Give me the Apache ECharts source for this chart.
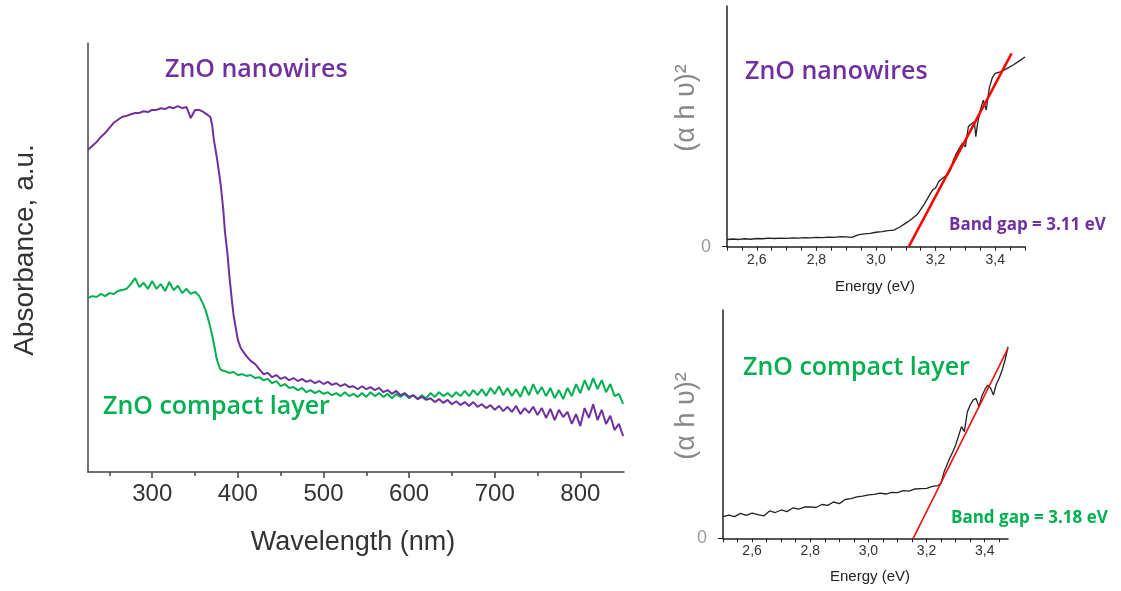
<!DOCTYPE html>
<html><head><meta charset="utf-8">
<script src="https://cdn.jsdelivr.net/npm/echarts@6/dist/echarts.min.js"></script>
<style>html,body{margin:0;padding:0;background:#fff}#c{width:1121px;height:591px}</style>
</head><body><div id="c"></div>
<script>
// Absorbance spectra (wavelength nm, absorbance a.u.)
const nanowiresAbs = [
[225,0.751],[230,0.760],[235,0.769],[240,0.781],[245,0.790],[250,0.802],[255,0.814],[260,0.821],[265,0.828],[270,0.830],
[275,0.834],[280,0.837],[285,0.837],[290,0.841],[295,0.839],[300,0.844],[305,0.844],[310,0.848],[315,0.846],[320,0.851],
[325,0.848],[330,0.853],[335,0.848],[340,0.851],[345,0.825],[350,0.844],[355,0.844],[360,0.839],[365,0.832],[368,0.827],
[370,0.809],[372,0.774],[375,0.739],[378,0.699],[380,0.669],[383,0.611],[385,0.559],[388,0.506],[390,0.459],[393,0.401],
[395,0.366],[398,0.331],[400,0.308],[403,0.291],[405,0.284],[410,0.270],[415,0.259],[420,0.252],[425,0.240],[430,0.228],
[435,0.231],[440,0.221],[445,0.226],[450,0.217],[455,0.221],[460,0.214],[465,0.219],[470,0.212],[475,0.217],[480,0.210],
[485,0.214],[490,0.207],[495,0.212],[500,0.205],[505,0.210],[510,0.203],[515,0.207],[520,0.200],[525,0.205],[530,0.198],
[535,0.200],[540,0.193],[545,0.200],[550,0.193],[555,0.198],[560,0.191],[565,0.196],[570,0.186],[575,0.191],[580,0.182],
[585,0.189],[590,0.179],[595,0.184],[600,0.175],[605,0.179],[610,0.170],[615,0.175],[620,0.168],[625,0.172],[630,0.163],
[635,0.170],[640,0.161],[645,0.168],[650,0.158],[655,0.165],[660,0.156],[665,0.163],[670,0.154],[675,0.163],[680,0.152],
[685,0.158],[690,0.149],[695,0.156],[700,0.145],[705,0.154],[710,0.142],[715,0.152],[720,0.140],[725,0.154],[730,0.135],
[735,0.149],[740,0.138],[745,0.152],[750,0.133],[755,0.149],[760,0.126],[765,0.147],[770,0.121],[775,0.145],[780,0.128],
[785,0.140],[790,0.112],[795,0.135],[800,0.107],[805,0.149],[810,0.126],[815,0.158],[820,0.121],[825,0.145],[830,0.112],
[835,0.131],[840,0.098],[845,0.112],[850,0.084]
];
const compactAbs = [
[225,0.406],[230,0.410],[235,0.408],[240,0.415],[245,0.410],[250,0.417],[255,0.415],[260,0.422],[265,0.424],[270,0.427],
[275,0.438],[280,0.452],[285,0.431],[290,0.441],[295,0.427],[300,0.445],[305,0.427],[310,0.438],[315,0.422],[320,0.443],
[325,0.424],[330,0.434],[335,0.417],[340,0.427],[345,0.415],[350,0.420],[355,0.410],[360,0.389],[363,0.373],[365,0.359],
[368,0.336],[370,0.319],[373,0.289],[375,0.266],[378,0.247],[380,0.238],[385,0.235],[390,0.231],[395,0.233],[400,0.226],
[405,0.228],[410,0.224],[415,0.226],[420,0.219],[425,0.221],[430,0.214],[435,0.217],[440,0.207],[445,0.212],[450,0.200],
[455,0.205],[460,0.196],[465,0.198],[470,0.191],[475,0.196],[480,0.186],[485,0.191],[490,0.184],[495,0.189],[500,0.182],
[505,0.186],[510,0.179],[515,0.184],[520,0.177],[525,0.186],[530,0.177],[535,0.182],[540,0.175],[545,0.184],[550,0.175],
[555,0.186],[560,0.177],[565,0.184],[570,0.175],[575,0.182],[580,0.172],[585,0.182],[590,0.175],[595,0.182],[600,0.172],
[605,0.179],[610,0.170],[615,0.179],[620,0.172],[625,0.184],[630,0.175],[635,0.186],[640,0.177],[645,0.184],[650,0.175],
[655,0.186],[660,0.177],[665,0.189],[670,0.177],[675,0.191],[680,0.179],[685,0.193],[690,0.177],[695,0.196],[700,0.182],
[705,0.200],[710,0.179],[715,0.196],[720,0.177],[725,0.193],[730,0.175],[735,0.200],[740,0.179],[745,0.205],[750,0.182],
[755,0.198],[760,0.177],[765,0.196],[770,0.172],[775,0.191],[780,0.170],[785,0.196],[790,0.177],[795,0.205],[800,0.184],
[805,0.214],[810,0.191],[815,0.219],[820,0.193],[825,0.214],[830,0.186],[835,0.205],[840,0.177],[845,0.182],[850,0.159]
];
// Tauc plots (energy eV, (alpha h nu)^2 a.u.)
const nanowiresTauc = [
[2.50,0.030],[2.52,0.032],[2.54,0.030],[2.56,0.033],[2.58,0.031],[2.60,0.034],[2.62,0.033],[2.64,0.036],[2.66,0.034],[2.68,0.036],
[2.70,0.035],[2.72,0.037],[2.74,0.036],[2.76,0.038],[2.78,0.037],[2.80,0.039],[2.82,0.038],[2.84,0.040],[2.86,0.039],[2.88,0.042],
[2.90,0.041],[2.92,0.039],[2.94,0.049],[2.96,0.053],[2.98,0.055],[3.00,0.060],[3.02,0.063],[3.04,0.067],[3.06,0.069],[3.08,0.082],
[3.10,0.098],[3.12,0.115],[3.14,0.136],[3.16,0.173],[3.18,0.215],[3.19,0.236],[3.20,0.244],[3.21,0.270],[3.22,0.281],[3.23,0.291],
[3.24,0.298],[3.25,0.319],[3.26,0.360],[3.27,0.388],[3.28,0.410],[3.29,0.430],[3.30,0.415],[3.31,0.499],[3.32,0.510],[3.33,0.519],
[3.335,0.457],[3.34,0.506],[3.35,0.568],[3.36,0.609],[3.37,0.568],[3.38,0.659],[3.39,0.701],[3.40,0.720],[3.42,0.727],[3.44,0.741],
[3.46,0.755],[3.48,0.771],[3.50,0.788]
];
const compactTauc = [
[2.50,0.095],[2.52,0.102],[2.54,0.095],[2.56,0.109],[2.58,0.100],[2.60,0.110],[2.62,0.104],[2.64,0.098],[2.66,0.120],[2.68,0.113],
[2.70,0.124],[2.72,0.117],[2.74,0.133],[2.76,0.128],[2.78,0.137],[2.80,0.138],[2.82,0.135],[2.84,0.148],[2.86,0.144],[2.88,0.159],
[2.90,0.152],[2.92,0.170],[2.94,0.174],[2.96,0.181],[2.98,0.185],[3.00,0.190],[3.02,0.192],[3.04,0.198],[3.06,0.194],[3.08,0.201],
[3.10,0.200],[3.12,0.209],[3.14,0.207],[3.16,0.216],[3.18,0.218],[3.20,0.219],[3.22,0.227],[3.24,0.231],[3.25,0.241],[3.26,0.290],
[3.27,0.321],[3.28,0.352],[3.29,0.378],[3.30,0.409],[3.31,0.448],[3.32,0.489],[3.33,0.467],[3.34,0.553],[3.35,0.584],[3.36,0.606],
[3.37,0.613],[3.38,0.576],[3.39,0.623],[3.40,0.650],[3.41,0.671],[3.42,0.658],[3.43,0.628],[3.44,0.676],[3.45,0.702],[3.46,0.737],
[3.47,0.781],[3.48,0.839]
];
const nanowiresFit = [[3.11,0],[3.455,0.803]];
const compactFit = [[3.154,0],[3.48,0.832]];
// Tick labels
const wavelengthLabels = [300,400,500,600,700,800];
const wavelengthMinor = [250,350,450,550,650,750];
const energyLabels = [2.6,2.8,3.0,3.2,3.4];
const energyTicks = [2.5,2.55,2.6,2.65,2.7,2.75,2.8,2.85,2.9,2.95,3.0,3.05,3.1,3.15,3.2,3.25,3.3,3.35,3.4,3.45,3.5];

const PURPLE = '#7030A0', GREEN = '#00B050';
const chart = echarts.init(document.getElementById('c'), null, {renderer:'canvas'});

function energyAxis(gi, max){
  return {type:'value', gridIndex:gi, min:2.5, max:max, position:'bottom', offset:0,
    axisLine:{lineStyle:{color:'#222', width:1.5}},
    axisTick:{customValues:energyTicks, length:4, lineStyle:{color:'#222'}},
    axisLabel:{customValues:energyLabels, color:'#333', fontFamily:'Liberation Sans', fontSize:14, margin:6,
      formatter:v=>v.toFixed(1).replace('.',',')},
    splitLine:{show:false}};
}
function taucY(gi){
  return {type:'value', gridIndex:gi, min:0, max:1, interval:1,
    axisLine:{show:true, lineStyle:{color:'#222', width:1.5}},
    axisTick:{show:true, customValues:[0], length:5, lineStyle:{color:'#222'}},
    axisLabel:{customValues:[0], color:'#999', fontFamily:'Liberation Sans', fontSize:18, margin:16, formatter:v=>v===0?'0':''},
    splitLine:{show:false}};
}
function txt(x, y, text, font, fill, opts){
  opts = opts || {};
  return {type:'text', x:x, y:y, rotation:opts.rotation||0, silent:true,
    style:{text:text, font:font, fill:fill, textAlign:opts.align||'left', textVerticalAlign:'middle'}};
}

chart.setOption({
  animation:false,
  backgroundColor:'#fff',
  grid:[
    {left:88, top:43, width:536, height:429},
    {left:727, top:6, width:298, height:240.7},
    {left:723, top:310, width:285, height:228.3}
  ],
  xAxis:[
    {type:'value', gridIndex:0, min:225, max:851, position:'bottom', offset:0,
      axisLine:{lineStyle:{color:'#444', width:1.5}},
      axisTick:{customValues:wavelengthLabels, length:6, lineStyle:{color:'#444', width:1.5}},
      axisLabel:{customValues:wavelengthLabels, color:'#333', fontFamily:'Liberation Sans', fontSize:24, margin:10},
      splitLine:{show:false}},
    {type:'value', gridIndex:0, min:225, max:851, position:'bottom', offset:0,
      axisLine:{show:false},
      axisTick:{customValues:wavelengthMinor, length:4, lineStyle:{color:'#444', width:1.5}},
      axisLabel:{show:false}, splitLine:{show:false}},
    energyAxis(1, 3.5),
    energyAxis(2, 3.48)
  ],
  yAxis:[
    {type:'value', gridIndex:0, min:0, max:1, axisLine:{show:true, lineStyle:{color:'#444', width:1.5}},
      axisTick:{show:false}, axisLabel:{show:false}, splitLine:{show:false}},
    taucY(1), taucY(2)
  ],
  series:[
    {type:'line', xAxisIndex:0, yAxisIndex:0, data:compactAbs, showSymbol:false, lineStyle:{color:GREEN, width:2}},
    {type:'line', xAxisIndex:0, yAxisIndex:0, data:nanowiresAbs, showSymbol:false, lineStyle:{color:PURPLE, width:2}},
    {type:'line', xAxisIndex:2, yAxisIndex:1, data:nanowiresTauc, showSymbol:false, lineStyle:{color:'#222', width:1.3}},
    {type:'line', xAxisIndex:2, yAxisIndex:1, data:nanowiresFit, showSymbol:false, lineStyle:{color:'#FF0000', width:2.5}},
    {type:'line', xAxisIndex:3, yAxisIndex:2, data:compactTauc, showSymbol:false, lineStyle:{color:'#222', width:1.3}},
    {type:'line', xAxisIndex:3, yAxisIndex:2, data:compactFit, showSymbol:false, lineStyle:{color:'#FF0000', width:1.5}}
  ],
  graphic:[
    txt(165,70,'ZnO nanowires','600 25px "Open Sans"',PURPLE),
    txt(103,407,'ZnO compact layer','600 25px "Open Sans"',GREEN),
    txt(25,250,'Absorbance, a.u.','28px "Liberation Sans"','#333',{rotation:Math.PI/2, align:'center'}),
    txt(353,543,'Wavelength (nm)','27px "Liberation Sans"','#333',{align:'center'}),
    txt(745,72,'ZnO nanowires','600 25px "Open Sans"',PURPLE),
    txt(949,225,'Band gap = 3.11 eV','bold 17px "Open Sans"',PURPLE),
    txt(687,108,'(α h υ)²','27px "Liberation Sans"','#888',{rotation:Math.PI/2, align:'center'}),
    txt(875,287,'Energy (eV)','15px "Liberation Sans"','#222',{align:'center'}),
    txt(743,368,'ZnO compact layer','600 25px "Open Sans"',GREEN),
    txt(951,518,'Band gap = 3.18 eV','bold 17px "Open Sans"',GREEN),
    txt(687,416,'(α h υ)²','27px "Liberation Sans"','#888',{rotation:Math.PI/2, align:'center'}),
    txt(870,577,'Energy (eV)','15px "Liberation Sans"','#222',{align:'center'})
  ]
});
</script></body></html>
